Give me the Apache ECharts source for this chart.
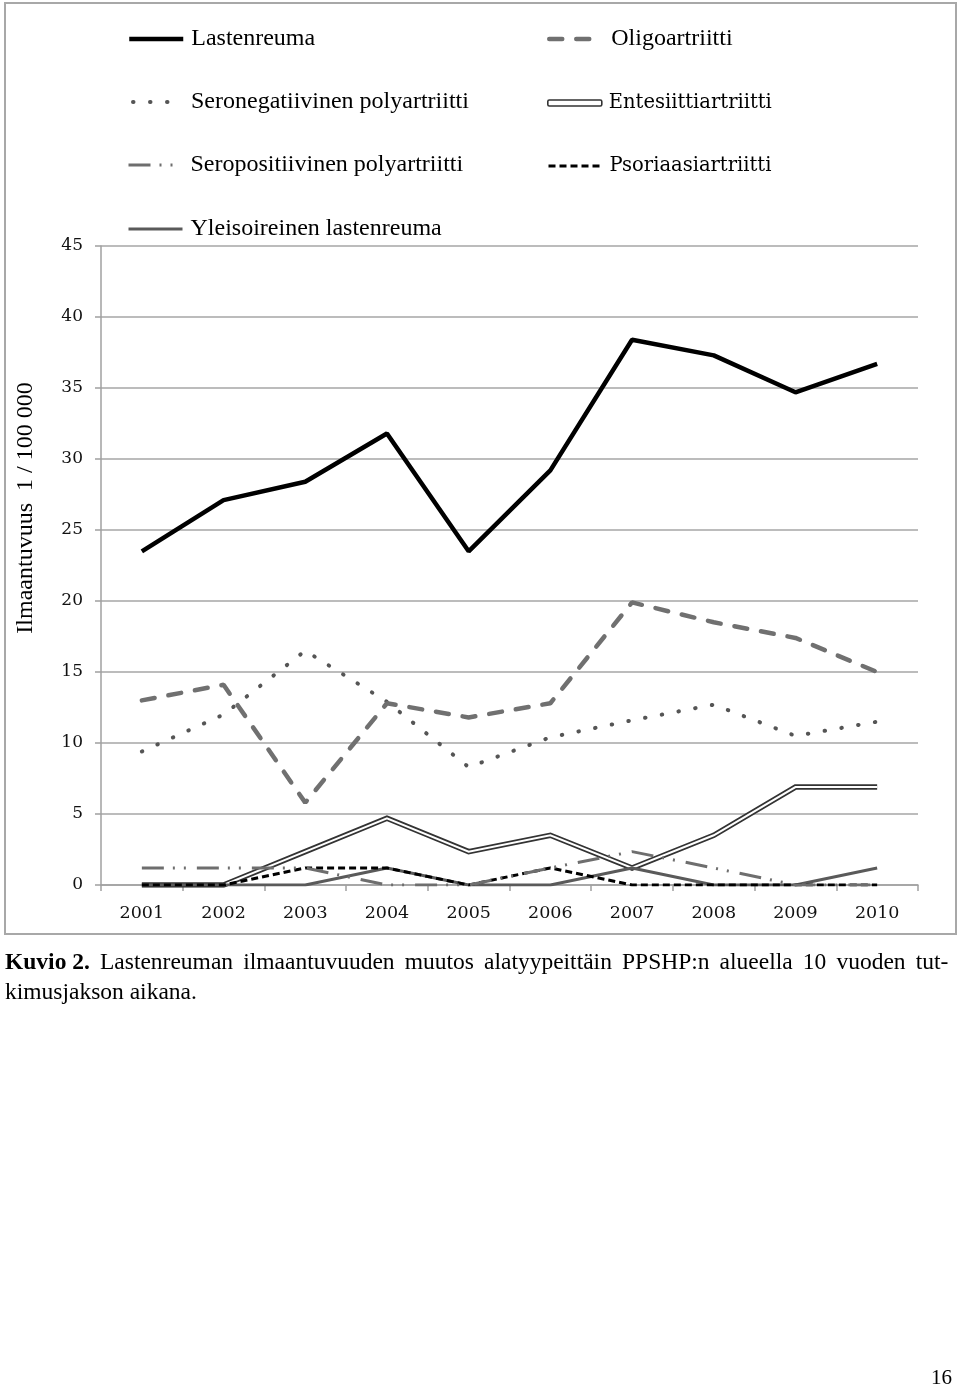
<!DOCTYPE html>
<html>
<head>
<meta charset="utf-8">
<script src="https://cdn.jsdelivr.net/npm/echarts@6/dist/echarts.min.js"></script>
<style>
html,body{margin:0;padding:0;background:#fff;}
#chart{width:960px;height:1388px;}
</style>
</head>
<body>
<div id="chart"></div>
<script>
// ---- data ----
var years = ['2001','2002','2003','2004','2005','2006','2007','2008','2009','2010'];
var lastenreuma      = [23.5, 27.1, 28.4, 31.8, 23.5, 29.2, 38.4, 37.3, 34.7, 36.7];
var oligoartriitti   = [13.0, 14.1, 5.8, 12.8, 11.8, 12.8, 19.9, 18.5, 17.4, 15.0];
var seronegatiivinen = [9.4, 12.0, 16.5, 12.9, 8.3, 10.4, 11.6, 12.7, 10.5, 11.5];
var entesiitti       = [0, 0, 2.35, 4.7, 2.35, 3.5, 1.2, 3.5, 6.9, 6.9];
var seropositiivinen = [1.2, 1.2, 1.2, 0, 0, 1.2, 2.35, 1.2, 0, 0];
var psoriaasi        = [0, 0, 1.2, 1.2, 0, 1.2, 0, 0, 0, 0];
var yleisoireinen    = [0, 0, 0, 1.2, 0, 0, 1.2, 0, 0, 1.2];
var yTicks = [0, 5, 10, 15, 20, 25, 30, 35, 40, 45];

var names = {
  lr: 'Lastenreuma', ol: 'Oligoartriitti', sn: 'Seronegatiivinen polyartriitti',
  en: 'Entesiittiartriitti', sp: 'Seropositiivinen polyartriitti',
  ps: 'Psoriaasiartriitti', yl: 'Yleisoireinen lastenreuma'
};
var captionLine1 = ['Lastenreuman', 'ilmaantuvuuden', 'muutos', 'alatyypeittäin', 'PPSHP:n', 'alueella', '10', 'vuoden', 'tut-'];
var captionLine2 = 'kimusjakson aikana.';

var chart = echarts.init(document.getElementById('chart'), null, {renderer: 'canvas'});

var times = 'Liberation Serif';
var camb = 'DejaVu Serif';

function lg(name, left, top, extra) {
  var o = {
    data: [name], left: left, top: top, orient: 'horizontal', padding: 0,
    itemWidth: 54, itemHeight: 14, selectedMode: false,
    lineStyle: {width: 'inherit', dashOffset: 0},
    itemStyle: {opacity: 0},
    textStyle: {fontFamily: times, fontSize: 24, color: '#000', padding: [0, 0, 0, 3]}
  };
  if (extra) { for (var k in extra) o[k] = extra[k]; }
  return o;
}

var rows = [38, 101, 164, 228];
var cambText = {fontFamily: camb, fontSize: 19.5, color: '#000', padding: [0, 0, 0, 2]};

var caption1 = '{b|Kuvio 2.}{s| }' + captionLine1.join('{s| }');

var option = {
  animation: false,
  backgroundColor: '#fff',
  legend: [
    lg(names.lr, 127, rows[0] - 11, {lineStyle: {width: 4.5, color: '#000', type: 'solid', dashOffset: 0}}),
    lg(names.sn, 127, rows[1] - 11, {lineStyle: {width: 4, color: '#555', type: [0.5, 16.5], cap: 'round', dashOffset: 13}}),
    lg(names.sp, 127, rows[2] - 11, {lineStyle: {width: 3, color: '#6e6e6e', type: [22, 9, 2, 9, 2, 11], dashOffset: 0}}),
    lg(names.yl, 127, rows[3] - 11, {lineStyle: {width: 3, color: '#5a5a5a', type: 'solid', dashOffset: 0}}),
    lg(names.ol, 547, rows[0] - 11, {lineStyle: {width: 4.5, color: '#707070', type: [13, 14], cap: 'round', dashOffset: 0}}),
    lg(names.en, 547, rows[1] - 8, {icon: 'roundRect', itemHeight: 6,
      itemStyle: {color: '#fff', borderColor: '#333', borderWidth: 1.6, opacity: 1},
      textStyle: cambText}),
    lg(names.ps, 547, rows[2] - 8, {textStyle: cambText,
      lineStyle: {width: 3, color: '#000', type: [7, 4], dashOffset: 0}})
  ],
  grid: {left: 101, right: 42, top: 246, bottom: 503, containLabel: false},
  xAxis: {
    type: 'category', data: years, boundaryGap: true,
    axisLine: {lineStyle: {color: '#a0a0a0', width: 1.5}},
    axisTick: {show: true, alignWithLabel: false, length: 6, lineStyle: {color: '#a0a0a0', width: 1.5}},
    axisLabel: {fontFamily: camb, fontSize: 17.5, color: '#111', margin: 19}
  },
  yAxis: {
    type: 'value', min: 0, max: 45, interval: 5,
    axisLine: {show: true, lineStyle: {color: '#a0a0a0', width: 1.5}},
    axisTick: {show: true, length: 6, lineStyle: {color: '#a0a0a0', width: 1.5}},
    splitLine: {show: true, lineStyle: {color: '#a6a6a6', width: 1.5}},
    axisLabel: {fontFamily: camb, fontSize: 17, color: '#111', margin: 18,
      formatter: function (v) { return yTicks.indexOf(v) >= 0 ? String(v) : ''; }}
  },
  series: [
    {name: names.en, type: 'line', data: entesiitti, symbol: 'none', z: 2,
      lineStyle: {color: '#333', width: 5.5, join: 'miter'}, itemStyle: {color: '#333'}},
    {name: 'en_inner', type: 'line', data: entesiitti, symbol: 'none', z: 2,
      lineStyle: {color: '#fff', width: 2, join: 'miter'}, itemStyle: {color: '#fff'}},
    {name: names.yl, type: 'line', data: yleisoireinen, symbol: 'none', z: 3,
      lineStyle: {color: '#5a5a5a', width: 3}, itemStyle: {color: '#5a5a5a'}},
    {name: names.ps, type: 'line', data: psoriaasi, symbol: 'none', z: 3,
      lineStyle: {color: '#000', width: 3, type: [7, 4]}, itemStyle: {color: '#000'}},
    {name: names.sp, type: 'line', data: seropositiivinen, symbol: 'none', z: 3,
      lineStyle: {color: '#6e6e6e', width: 3, type: [22, 9, 2, 9, 2, 11]}, itemStyle: {color: '#6e6e6e'}},
    {name: names.sn, type: 'line', data: seronegatiivinen, symbol: 'none', z: 4,
      lineStyle: {color: '#555', width: 4, type: [0.5, 16.5], cap: 'round'}, itemStyle: {color: '#555'}},
    {name: names.ol, type: 'line', data: oligoartriitti, symbol: 'none', z: 4,
      lineStyle: {color: '#707070', width: 4.5, type: [13, 14], cap: 'round'}, itemStyle: {color: '#707070'}},
    {name: names.lr, type: 'line', data: lastenreuma, symbol: 'none', z: 5,
      lineStyle: {color: '#000', width: 4.5}, itemStyle: {color: '#000'}}
  ],
  graphic: [
    {type: 'rect', z: 0, shape: {x: 5, y: 3, width: 951, height: 931},
      style: {fill: null, stroke: '#a8a8a8', lineWidth: 2}},
    {type: 'text', x: 26, y: 508, rotation: Math.PI / 2,
      style: {text: 'Ilmaantuvuus  1 / 100 000', font: '24px "Liberation Serif"', fill: '#000',
        align: 'center', verticalAlign: 'middle'}},
    {type: 'text', x: 5, y: 963,
      style: {text: caption1,
        font: '23.5px "Liberation Serif"', fill: '#000', verticalAlign: 'middle',
        rich: {b: {fontWeight: 'bold', fontFamily: 'Liberation Serif', fontSize: 23.5},
               s: {width: 10.1, fontFamily: 'Liberation Serif', fontSize: 23.5}}}},
    {type: 'text', x: 5, y: 993,
      style: {text: captionLine2, font: '23.5px "Liberation Serif"', fill: '#000', verticalAlign: 'middle'}},
    {type: 'text', x: 952, y: 1378,
      style: {text: '16', font: '21px "Liberation Serif"', fill: '#000', align: 'right', verticalAlign: 'middle'}}
  ]
};
chart.setOption(option);
</script>
</body>
</html>
